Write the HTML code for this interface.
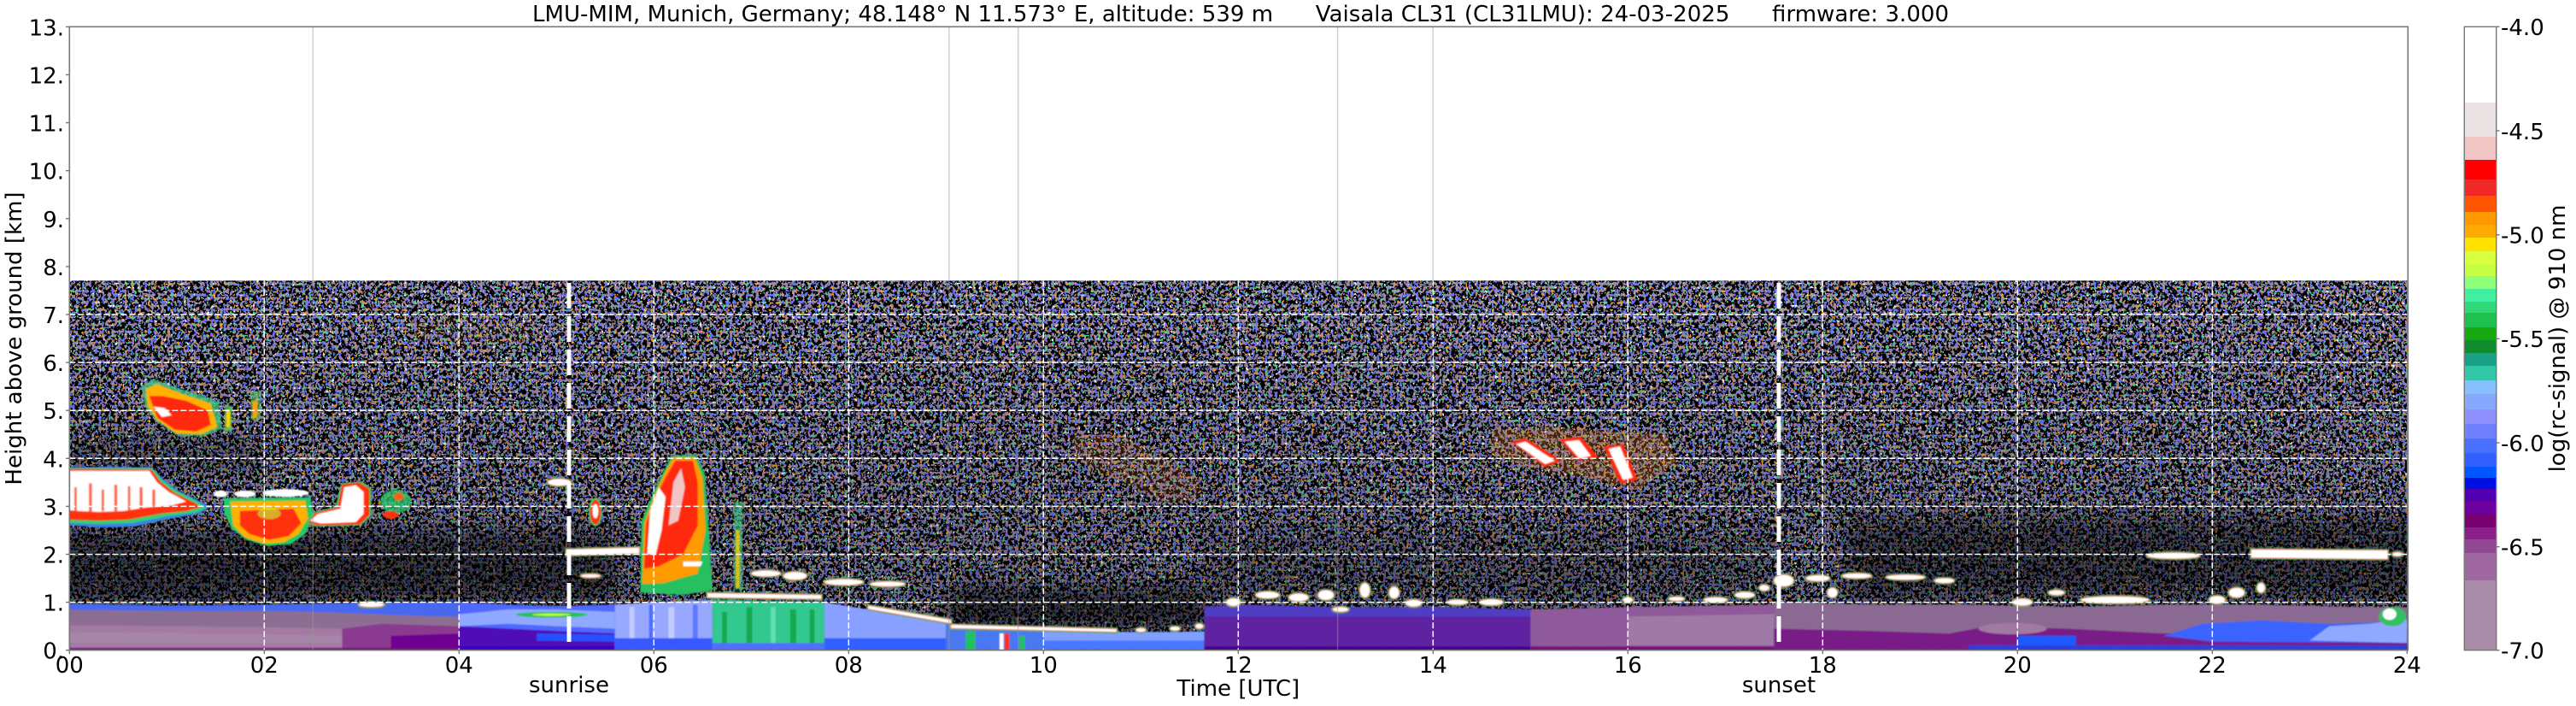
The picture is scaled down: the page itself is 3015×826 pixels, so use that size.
<!DOCTYPE html>
<html><head><meta charset="utf-8"><style>
html,body{margin:0;padding:0;background:#fff;}
svg{display:block;}
text{font-family:"DejaVu Sans","Liberation Sans",sans-serif;font-size:26px;fill:#000;}
#blobs *{vector-effect:non-scaling-stroke;}
</style></head><body>
<svg xmlns="http://www.w3.org/2000/svg" xmlns:xlink="http://www.w3.org/1999/xlink" width="3015" height="826" viewBox="0 0 3015 826">
<defs>
<filter id="nz" filterUnits="userSpaceOnUse" x="81" y="328" width="2737" height="433" color-interpolation-filters="sRGB">
<feTurbulence type="fractalNoise" baseFrequency="0.26 0.23" numOctaves="2" seed="7" result="t1"/>
<feTurbulence type="fractalNoise" baseFrequency="0.26 0.23" numOctaves="2" seed="23" result="t2"/>
<feColorMatrix in="t1" type="matrix" values="0 0 0 0 0.64 0 0 0 0 0.53 0 0 0 0 0.66 50 0 0 0 -26.5" result="a"/>
<feColorMatrix in="t1" type="matrix" values="0 0 0 0 0.40 0 0 0 0 0.46 0 0 0 0 1 0 50 0 0 -30" result="b"/>
<feColorMatrix in="t1" type="matrix" values="0 0 0 0 0.3 0 0 0 0 0.85 0 0 0 0 0.55 0 0 50 0 -33.25" result="c"/>
<feColorMatrix in="t2" type="matrix" values="0 0 0 0 1 0 0 0 0 0.62 0 0 0 0 0.12 50 0 0 0 -34.75" result="d"/>
<feColorMatrix in="t2" type="matrix" values="0 0 0 0 1 0 0 0 0 1 0 0 0 0 1 0 50 0 0 -36.5" result="e"/>
<feMerge><feMergeNode in="a"/><feMergeNode in="b"/><feMergeNode in="c"/><feMergeNode in="d"/><feMergeNode in="e"/></feMerge>
</filter>
<filter id="s12" filterUnits="userSpaceOnUse" x="0" y="300" width="3015" height="500"><feGaussianBlur stdDeviation="14"/></filter>
<filter id="s1" filterUnits="userSpaceOnUse" x="0" y="300" width="3015" height="500"><feGaussianBlur stdDeviation="0.9"/></filter>
<clipPath id="dc"><rect x="81.3" y="328.2" width="2736" height="432.5"/></clipPath>
<linearGradient id="vg" x1="0" y1="0" x2="0" y2="1">
<stop offset="0" stop-color="#000" stop-opacity="0"/>
<stop offset="0.85" stop-color="#000" stop-opacity="0.25"/>
<stop offset="1" stop-color="#000" stop-opacity="0.25"/>
</linearGradient>
<g id="blobs">
<ellipse cx="3.1" cy="0.95" rx="0.13" ry="0.05"/>
<ellipse cx="5.03" cy="3.5" rx="0.12" ry="0.07"/>
<path d="M5.1,1.98 L5.85,2.02 L5.85,2.14 L5.1,2.1 Z"/>
<ellipse cx="5.35" cy="1.55" rx="0.1" ry="0.035"/>
<ellipse cx="7.15" cy="1.6" rx="0.15" ry="0.06"/>
<ellipse cx="7.45" cy="1.55" rx="0.12" ry="0.08"/>
<ellipse cx="7.95" cy="1.42" rx="0.2" ry="0.06"/>
<ellipse cx="8.4" cy="1.38" rx="0.18" ry="0.05"/>
<path d="M6.55,1.1 L7.72,1.07 L7.72,1.15 L6.55,1.19 Z"/>
<path d="M8.2,0.86 L9.05,0.56 L9.05,0.63 L8.2,0.93 Z"/>
<path d="M9.05,0.46 L10.75,0.38 L10.75,0.44 L9.05,0.53 Z"/>
<ellipse cx="11.0" cy="0.42" rx="0.05" ry="0.04"/>
<ellipse cx="11.35" cy="0.45" rx="0.05" ry="0.04"/>
<ellipse cx="11.6" cy="0.5" rx="0.04" ry="0.05"/>
<ellipse cx="11.95" cy="1.0" rx="0.07" ry="0.08"/>
<ellipse cx="12.3" cy="1.15" rx="0.12" ry="0.07"/>
<ellipse cx="12.62" cy="1.1" rx="0.1" ry="0.08"/>
<ellipse cx="12.9" cy="1.15" rx="0.08" ry="0.1"/>
<ellipse cx="13.05" cy="0.85" rx="0.08" ry="0.05"/>
<ellipse cx="13.3" cy="1.25" rx="0.05" ry="0.15"/>
<ellipse cx="13.6" cy="1.2" rx="0.05" ry="0.12"/>
<ellipse cx="13.8" cy="0.98" rx="0.08" ry="0.07"/>
<ellipse cx="14.25" cy="1.0" rx="0.1" ry="0.05"/>
<ellipse cx="14.6" cy="1.0" rx="0.12" ry="0.06"/>
<ellipse cx="16.0" cy="1.05" rx="0.05" ry="0.05"/>
<ellipse cx="16.5" cy="1.07" rx="0.08" ry="0.04"/>
<ellipse cx="16.9" cy="1.05" rx="0.12" ry="0.05"/>
<ellipse cx="17.2" cy="1.15" rx="0.1" ry="0.06"/>
<ellipse cx="17.4" cy="1.3" rx="0.05" ry="0.06"/>
<ellipse cx="17.6" cy="1.45" rx="0.1" ry="0.12"/>
<ellipse cx="17.95" cy="1.5" rx="0.12" ry="0.06"/>
<ellipse cx="18.35" cy="1.55" rx="0.15" ry="0.05"/>
<ellipse cx="18.85" cy="1.52" rx="0.2" ry="0.05"/>
<ellipse cx="19.25" cy="1.45" rx="0.1" ry="0.05"/>
<ellipse cx="18.1" cy="1.2" rx="0.05" ry="0.1"/>
<ellipse cx="20.05" cy="1.0" rx="0.1" ry="0.07"/>
<ellipse cx="20.4" cy="1.2" rx="0.08" ry="0.05"/>
<ellipse cx="21.0" cy="1.05" rx="0.35" ry="0.07"/>
<ellipse cx="21.6" cy="1.97" rx="0.27" ry="0.06"/>
<path d="M22.4,1.93 L23.8,1.9 L23.8,2.08 L22.4,2.1 Z"/>
<ellipse cx="22.05" cy="1.05" rx="0.08" ry="0.08"/>
<ellipse cx="22.25" cy="1.2" rx="0.08" ry="0.1"/>
<ellipse cx="22.5" cy="1.3" rx="0.04" ry="0.1"/>
<ellipse cx="23.9" cy="2.0" rx="0.05" ry="0.04"/>
</g>
</defs>

<rect width="3015" height="826" fill="#fff"/>

<g clip-path="url(#dc)">
<rect x="81.3" y="328.2" width="2736" height="432.5" fill="#000"/>
<rect x="81.3" y="328.2" width="2736" height="432.5" fill="#000" filter="url(#nz)"/>
<rect x="81.3" y="328.2" width="2736" height="432.5" fill="url(#vg)"/>
<g filter="url(#s12)" fill="#000">
<rect x="40" y="620" width="680" height="85" opacity="0.5"/>
<rect x="2160" y="605" width="700" height="95" opacity="0.45"/>
<rect x="1107" y="690" width="310" height="45" opacity="0.6"/>
<rect x="1415" y="620" width="660" height="85" opacity="0.2"/>
<rect x="40" y="510" width="270" height="40" opacity="0.3"/>
</g>

<g filter="url(#s1)">
<g transform="matrix(114 0 0 -56.1 81.3 760.7)">
<path fill="#4a68f0" d="M0,0 L0,0.97 L0.5,0.95 L1,0.93 L1.5,0.94 L2,0.95 L2.5,0.97 L2.8,0.98 L2.8,0 Z"/>
<path fill="#8c6e92" d="M0,0 L0,0.84 L1,0.82 L2,0.82 L2.5,0.8 L2.8,0.78 L2.8,0 Z"/>
<path fill="#a27aa4" d="M0,0 L0,0.52 L1,0.5 L2,0.48 L2.8,0.45 L2.8,0 Z"/>
<path fill="#a98aaa" d="M0,0.15 L0,0.38 L1,0.36 L2,0.33 L2.8,0.3 L2.8,0.15 Z" opacity="0.7"/>
<path fill="#4a68f0" d="M2.8,0 L2.8,0.98 L3.5,1.0 L4,1.0 L4,0 Z"/>
<path fill="#8c6e92" d="M2.8,0 L2.8,0.78 L3.5,0.72 L4,0.7 L4,0 Z"/>
<path fill="#8a3a90" d="M2.8,0 L2.8,0.45 L3.2,0.55 L4,0.5 L4,0 Z"/>
<path fill="#700090" d="M3.3,0 L3.3,0.3 L4,0.35 L4,0 Z"/>
<path fill="#5068ff" d="M4,0 L4,1.0 L4.5,0.95 L5,0.92 L5.6,0.95 L5.6,0 Z"/>
<path fill="#90a8ff" d="M4,0.5 L4,0.75 L4.5,0.85 L5,0.85 L5.6,0.8 L5.6,0.45 L5,0.5 L4.5,0.55 Z"/>
<path fill="#5010b8" d="M4,0 L4,0.5 L4.5,0.45 L5,0.4 L5.6,0.35 L5.6,0 Z"/>
<path fill="#2850ff" d="M4.8,0.2 L4.8,0.35 L5.6,0.32 L5.6,0.18 Z"/>
<rect x="4" y="0" width="1.6" height="0.08" fill="#3a00c0"/>
<ellipse cx="4.95" cy="0.74" rx="0.37" ry="0.06" fill="#20c060"/>
<ellipse cx="4.95" cy="0.74" rx="0.2" ry="0.025" fill="#c0ff40"/>
<path fill="#98a8ff" d="M5.6,0 L5.6,0.95 L6,1.0 L6.6,1.05 L6.6,0 Z"/>
<rect x="5.75" y="0" width="0.05" height="0.9" fill="#c4ccff"/>
<rect x="5.95" y="0" width="0.04" height="0.95" fill="#5070ff"/>
<rect x="6.15" y="0" width="0.06" height="0.9" fill="#c4ccff"/>
<rect x="6.4" y="0" width="0.05" height="0.95" fill="#5a78ff"/>
<rect x="5.6" y="0" width="1.0" height="0.25" fill="#3858ff"/>
<path fill="#30c890" d="M6.6,0 L6.6,1.05 L7.75,1.0 L7.75,0 Z"/>
<rect x="6.7" y="0.1" width="0.05" height="0.7" fill="#18a850"/>
<rect x="6.95" y="0.15" width="0.06" height="0.75" fill="#18a850"/>
<rect x="7.2" y="0.1" width="0.05" height="0.8" fill="#60e0b0"/>
<rect x="7.4" y="0.15" width="0.06" height="0.7" fill="#18a850"/>
<rect x="7.6" y="0.1" width="0.05" height="0.75" fill="#18a850"/>
<rect x="6.6" y="0" width="1.15" height="0.15" fill="#5070ff"/>
<path fill="#88a0ff" d="M7.75,0 L7.75,1.0 L8.2,0.85 L8.6,0.75 L9,0.55 L9,0 Z"/>
<rect x="7.75" y="0" width="1.25" height="0.25" fill="#3060ff"/>
<path fill="#4a78f0" d="M9,0 L9,0.55 L9.5,0.48 L10,0.4 L10,0 Z"/>
<rect x="9.2" y="0" width="0.1" height="0.4" fill="#20c060"/>
<rect x="9.6" y="0" width="0.05" height="0.35" fill="#ff3020"/>
<rect x="9.55" y="0" width="0.04" height="0.35" fill="#ffffff"/>
<rect x="9.75" y="0" width="0.06" height="0.3" fill="#20c060"/>
<path fill="#4878ff" d="M10,0 L10,0.4 L10.5,0.35 L11,0.35 L11.65,0.4 L11.65,0 Z"/>
<path fill="#80a0ff" d="M10,0.2 L10,0.38 L11.65,0.38 L11.65,0.2 Z"/>
<path fill="#5e22a0" d="M11.65,0 L11.65,0.9 L12,0.95 L13,0.9 L14,0.9 L15,0.85 L15,0 Z"/>
<path fill="#4a48d0" d="M11.65,0.7 L11.65,0.9 L12,0.95 L13,0.9 L14,0.9 L15,0.85 L15,0.7 Z" opacity="0.7"/>
<rect x="11.65" y="0" width="3.35" height="0.08" fill="#4a0090"/>
<path fill="#8f5a9a" d="M15,0 L15,0.85 L16,0.9 L17.5,0.95 L17.5,0 Z"/>
<path fill="#a07aa6" d="M16,0.1 L16,0.7 L17.5,0.75 L17.5,0.1 Z"/>
<rect x="15" y="0" width="2.5" height="0.08" fill="#7a0a80"/>
<path fill="#8a6a92" d="M17.5,0 L17.5,1.0 L18.5,0.95 L19.5,0.95 L20.5,0.9 L21.5,0.95 L22.5,0.95 L23.5,0.9 L24,0.9 L24,0 Z"/>
<path fill="#7a1a88" d="M17.5,0 L17.5,0.45 L18.5,0.4 L19.3,0.35 L19.7,0.5 L20.5,0.45 L21.5,0.35 L22.5,0.4 L23.5,0.4 L24,0.35 L24,0 Z"/>
<ellipse cx="19.95" cy="0.45" rx="0.35" ry="0.12" fill="#a07aa0"/>
<path fill="#3a64ff" d="M21.5,0.3 L21.9,0.55 L22.5,0.62 L23.2,0.55 L24,0.6 L24,0.15 L22,0.18 Z"/>
<path fill="#90a8ff" d="M23,0.2 L23.2,0.5 L23.6,0.55 L24,0.65 L24,0.15 Z"/>
<rect x="20" y="0" width="0.6" height="0.3" fill="#1a5aff"/>
<rect x="19.5" y="0" width="4.5" height="0.1" fill="#2a40e0"/>
<ellipse cx="23.85" cy="0.7" rx="0.14" ry="0.2" fill="#30c060"/>
<ellipse cx="23.82" cy="0.75" rx="0.07" ry="0.12" fill="#ffffff"/>
<rect x="0" y="0" width="4" height="0.05" fill="#7a0a80"/>

<path fill="#ff8a20" opacity="0.16" d="M10.3,4.5 L10.8,4.5 L11.6,3.6 L11.6,3.1 L11.2,3.1 L10.3,4.0 Z"/>
<path fill="#ffb040" opacity="0.08" d="M3.5,6.9 L4.2,7.0 L4.8,6.8 L4.8,6.4 L4.0,6.3 L3.5,6.5 Z"/>
<path fill="#ff8a20" opacity="0.25" d="M14.6,4.6 L15.2,4.65 L16.4,4.5 L16.5,3.9 L16.1,3.35 L15.6,3.6 L15.0,3.8 L14.6,4.1 Z"/>
<path fill="#ff2a10" d="M14.8,4.35 L14.95,4.42 L15.32,3.95 L15.15,3.82 Z"/>
<path fill="#ff2a10" d="M15.3,4.4 L15.52,4.45 L15.7,4.02 L15.48,3.95 Z"/>
<path fill="#ff2a10" d="M15.75,4.25 L15.95,4.3 L16.1,3.55 L15.92,3.48 Z"/>
<path fill="#fff" d="M14.85,4.3 L14.95,4.35 L15.25,3.95 L15.15,3.88 Z"/>
<path fill="#fff" d="M15.35,4.35 L15.5,4.38 L15.62,4.05 L15.5,4.0 Z"/>
<path fill="#fff" d="M15.8,4.2 L15.92,4.25 L16.05,3.6 L15.95,3.55 Z"/>

<path fill="#3a80e8" d="M0,2.6 L0,3.81 L0.4,3.83 L0.85,3.81 L0.96,3.57 L1.11,3.34 L1.31,3.14 L1.44,2.98 L1.33,2.84 L1.03,2.74 L0.68,2.58 L0.33,2.56 Z"/>
<path fill="#30d070" d="M0,2.65 L0,3.8 L0.85,3.8 L0.95,3.55 L1.1,3.32 L1.3,3.12 L1.41,2.97 L1.3,2.87 L1.0,2.79 L0.64,2.65 L0.3,2.63 Z"/>
<path fill="#ff3010" d="M0,2.72 L0,3.78 L0.84,3.77 L0.93,3.52 L1.08,3.28 L1.28,3.08 L1.35,2.98 L1.2,2.9 L0.95,2.85 L0.6,2.72 L0.3,2.7 Z"/>
<path fill="#ffffff" d="M0,2.92 L0,3.74 L0.82,3.74 L0.9,3.5 L1.02,3.3 L1.2,3.1 L1.05,3.02 L0.8,2.98 L0.55,2.9 L0.3,2.88 L0.1,2.9 Z"/>
<g fill="#ff4020" opacity="0.8">
<rect x="0.05" y="2.9" width="0.025" height="0.5"/>
<rect x="0.2" y="2.88" width="0.03" height="0.6"/>
<rect x="0.33" y="2.9" width="0.025" height="0.45"/>
<rect x="0.46" y="2.9" width="0.03" height="0.55"/>
<rect x="0.6" y="2.92" width="0.025" height="0.5"/>
<rect x="0.72" y="2.95" width="0.03" height="0.45"/>
<rect x="0.85" y="3.0" width="0.03" height="0.35"/>
</g>
<path fill="#28c868" d="M1.58,3.17 L2.47,3.19 L2.51,2.8 L2.42,2.42 L2.28,2.22 L2.04,2.17 L1.83,2.29 L1.67,2.52 L1.59,2.85 Z"/>
<path fill="#ffb000" d="M1.65,3.1 L2.42,3.12 L2.45,2.75 L2.35,2.42 L2.2,2.25 L2.0,2.22 L1.8,2.35 L1.68,2.6 Z"/>
<path fill="#ff3010" d="M1.75,2.9 L2.3,2.95 L2.38,2.65 L2.25,2.38 L2.05,2.3 L1.85,2.42 L1.75,2.6 Z"/>
<ellipse cx="2.05" cy="2.85" rx="0.12" ry="0.12" fill="#c0ff40" opacity="0.6"/>
<ellipse cx="1.55" cy="3.26" rx="0.07" ry="0.07" fill="#fff"/>
<ellipse cx="1.8" cy="3.26" rx="0.11" ry="0.07" fill="#fff"/>
<ellipse cx="2.22" cy="3.28" rx="0.24" ry="0.08" fill="#fff"/>
<path fill="#28c868" d="M2.44,2.64 L2.55,2.58 L2.99,2.6 L3.1,2.81 L3.1,3.38 L2.98,3.52 L2.79,3.48 L2.73,2.99 L2.51,2.88 Z"/>
<path fill="#ff3010" d="M2.45,2.66 L2.56,2.6 L2.98,2.62 L3.08,2.82 L3.08,3.36 L2.97,3.5 L2.8,3.46 L2.75,2.98 L2.52,2.86 Z"/>
<path fill="#fff" d="M2.47,2.7 L2.58,2.64 L2.94,2.67 L3.02,2.84 L3.02,3.3 L2.94,3.44 L2.82,3.4 L2.78,2.95 L2.55,2.84 Z"/>
<ellipse cx="3.35" cy="3.1" rx="0.16" ry="0.25" fill="#28c868" opacity="0.75"/>
<ellipse cx="3.3" cy="2.82" rx="0.08" ry="0.08" fill="#ff3010"/>
<ellipse cx="3.38" cy="3.2" rx="0.05" ry="0.08" fill="#ff6010"/>
<path fill="#40c880" opacity="0.8" d="M0.74,5.5 L0.86,5.66 L1.1,5.47 L1.35,5.32 L1.53,5.18 L1.57,4.62 L1.38,4.46 L1.1,4.48 L0.89,4.78 L0.77,5.1 Z"/>
<path fill="#ffb000" d="M0.78,5.45 L0.9,5.55 L1.15,5.35 L1.45,5.15 L1.52,4.65 L1.35,4.5 L1.1,4.52 L0.9,4.8 L0.8,5.1 Z"/>
<path fill="#ff2a10" d="M0.82,5.3 L0.95,5.3 L1.2,5.2 L1.42,5.0 L1.45,4.7 L1.3,4.56 L1.08,4.6 L0.9,4.85 Z"/>
<path fill="#fff" d="M0.86,5.08 L0.98,5.05 L1.05,4.9 L0.95,4.86 Z"/>
<rect x="1.59" y="4.55" width="0.08" height="0.55" fill="#60d060" opacity="0.7"/>
<rect x="1.61" y="4.65" width="0.04" height="0.35" fill="#ffd000"/>
<rect x="1.86" y="4.8" width="0.1" height="0.6" fill="#60d060" opacity="0.6"/>
<rect x="1.88" y="4.85" width="0.05" height="0.35" fill="#ffa000"/>
<path fill="#28c060" d="M5.86,1.2 L5.87,2.68 L5.98,3.22 L6.08,3.65 L6.18,4.06 L6.43,4.07 L6.52,3.7 L6.56,2.7 L6.6,1.25 L6.3,1.15 Z"/>
<path fill="#ff9a00" d="M5.88,1.38 L5.9,2.65 L6.0,3.2 L6.1,3.65 L6.2,4.02 L6.42,4.02 L6.5,3.6 L6.53,2.5 L6.45,1.6 L6.1,1.4 Z"/>
<path fill="#ff2a10" d="M5.9,1.7 L5.92,2.65 L6.02,3.2 L6.12,3.6 L6.22,3.95 L6.4,3.95 L6.45,3.5 L6.45,2.6 L6.3,2.0 L6.05,1.75 Z"/>
<path fill="#fff" d="M5.93,2.0 L5.96,2.9 L6.05,3.4 L6.12,3.2 L6.08,2.5 L6.02,2.0 Z"/>
<path fill="#f2c5c5" d="M6.15,2.6 L6.2,3.5 L6.28,3.8 L6.32,3.4 L6.25,2.7 Z"/>
<path fill="#fff" d="M6.3,1.75 L6.48,1.75 L6.5,1.85 L6.3,1.85 Z"/>
<rect x="6.82" y="1.26" width="0.09" height="1.84" fill="#40d080" opacity="0.6"/>
<rect x="6.84" y="1.3" width="0.04" height="1.2" fill="#ffd000" opacity="0.8"/>
<ellipse cx="5.4" cy="2.88" rx="0.07" ry="0.3" fill="#28c868"/>
<ellipse cx="5.4" cy="2.88" rx="0.055" ry="0.26" fill="#ff3010"/>
<ellipse cx="5.4" cy="2.9" rx="0.03" ry="0.15" fill="#fff"/>
<use xlink:href="#blobs" fill="#ffffff" stroke="#30c060" stroke-width="3.5"/>
<use xlink:href="#blobs" fill="#ffffff" stroke="#ff3020" stroke-width="1.5"/>
<use xlink:href="#blobs" fill="#ffffff" stroke="none"/>
</g>
</g>

<g stroke="#fff" stroke-width="1.5" stroke-dasharray="7 3" fill="none">
<line x1="81.3" y1="704.6" x2="2817.3" y2="704.6"/>
<line x1="81.3" y1="648.5" x2="2817.3" y2="648.5"/>
<line x1="81.3" y1="592.4" x2="2817.3" y2="592.4"/>
<line x1="81.3" y1="536.3" x2="2817.3" y2="536.3"/>
<line x1="81.3" y1="480.2" x2="2817.3" y2="480.2"/>
<line x1="81.3" y1="424.1" x2="2817.3" y2="424.1"/>
<line x1="81.3" y1="368.0" x2="2817.3" y2="368.0"/>
<line x1="309.3" y1="328.2" x2="309.3" y2="760.7"/>
<line x1="537.3" y1="328.2" x2="537.3" y2="760.7"/>
<line x1="765.3" y1="328.2" x2="765.3" y2="760.7"/>
<line x1="993.3" y1="328.2" x2="993.3" y2="760.7"/>
<line x1="1221.3" y1="328.2" x2="1221.3" y2="760.7"/>
<line x1="1449.3" y1="328.2" x2="1449.3" y2="760.7"/>
<line x1="1677.3" y1="328.2" x2="1677.3" y2="760.7"/>
<line x1="1905.3" y1="328.2" x2="1905.3" y2="760.7"/>
<line x1="2133.3" y1="328.2" x2="2133.3" y2="760.7"/>
<line x1="2361.3" y1="328.2" x2="2361.3" y2="760.7"/>
<line x1="2589.3" y1="328.2" x2="2589.3" y2="760.7"/>
</g>
<g stroke="#fff" stroke-width="5" stroke-dasharray="30 9">
<line x1="666" y1="331" x2="666" y2="761"/>
<line x1="2082" y1="331" x2="2082" y2="761"/>
</g>
</g>

<g stroke="#9a9a9a" stroke-opacity="0.45" stroke-width="1.5">
<line x1="366.3" y1="31.3" x2="366.3" y2="760.7"/>
<line x1="1110.7" y1="31.3" x2="1110.7" y2="760.7"/>
<line x1="1191.7" y1="31.3" x2="1191.7" y2="760.7"/>
<line x1="1565.6" y1="31.3" x2="1565.6" y2="760.7"/>
<line x1="1677.3" y1="31.3" x2="1677.3" y2="328.2"/>
</g>

<rect x="81.3" y="31.3" width="2737" height="729.4" fill="none" stroke="#777" stroke-width="1.6"/>
<g stroke="#777" stroke-width="1.4">
<line x1="77" y1="760.7" x2="81.3" y2="760.7"/><line x1="77" y1="704.6" x2="81.3" y2="704.6"/>
<line x1="77" y1="648.5" x2="81.3" y2="648.5"/><line x1="77" y1="592.4" x2="81.3" y2="592.4"/>
<line x1="77" y1="536.3" x2="81.3" y2="536.3"/><line x1="77" y1="480.2" x2="81.3" y2="480.2"/>
<line x1="77" y1="424.1" x2="81.3" y2="424.1"/><line x1="77" y1="368.0" x2="81.3" y2="368.0"/>
<line x1="77" y1="311.9" x2="81.3" y2="311.9"/><line x1="77" y1="255.8" x2="81.3" y2="255.8"/>
<line x1="77" y1="199.7" x2="81.3" y2="199.7"/><line x1="77" y1="143.6" x2="81.3" y2="143.6"/>
<line x1="77" y1="87.5" x2="81.3" y2="87.5"/><line x1="77" y1="31.4" x2="81.3" y2="31.4"/>
<line x1="81.3" y1="760.7" x2="81.3" y2="765"/><line x1="309.3" y1="760.7" x2="309.3" y2="765"/>
<line x1="537.3" y1="760.7" x2="537.3" y2="765"/><line x1="765.3" y1="760.7" x2="765.3" y2="765"/>
<line x1="993.3" y1="760.7" x2="993.3" y2="765"/><line x1="1221.3" y1="760.7" x2="1221.3" y2="765"/>
<line x1="1449.3" y1="760.7" x2="1449.3" y2="765"/><line x1="1677.3" y1="760.7" x2="1677.3" y2="765"/>
<line x1="1905.3" y1="760.7" x2="1905.3" y2="765"/><line x1="2133.3" y1="760.7" x2="2133.3" y2="765"/>
<line x1="2361.3" y1="760.7" x2="2361.3" y2="765"/><line x1="2589.3" y1="760.7" x2="2589.3" y2="765"/>
<line x1="2817.3" y1="760.7" x2="2817.3" y2="765"/>
</g>

<g text-anchor="end">
<text x="75" y="770.7">0.</text><text x="75" y="714.6">1.</text><text x="75" y="658.5">2.</text>
<text x="75" y="602.4">3.</text><text x="75" y="546.3">4.</text><text x="75" y="490.2">5.</text>
<text x="75" y="434.1">6.</text><text x="75" y="378.0">7.</text><text x="75" y="321.9">8.</text>
<text x="75" y="265.8">9.</text><text x="75" y="209.7">10.</text><text x="75" y="153.6">11.</text>
<text x="75" y="97.5">12.</text><text x="75" y="41.4">13.</text>
</g>
<g text-anchor="middle">
<text x="81.3" y="787">00</text><text x="309.3" y="787">02</text><text x="537.3" y="787">04</text>
<text x="765.3" y="787">06</text><text x="993.3" y="787">08</text><text x="1221.3" y="787">10</text>
<text x="1449.3" y="787">12</text><text x="1677.3" y="787">14</text><text x="1905.3" y="787">16</text>
<text x="2133.3" y="787">18</text><text x="2361.3" y="787">20</text><text x="2589.3" y="787">22</text>
<text x="2817.3" y="787">24</text>
<text x="1449.3" y="814">Time [UTC]</text>
<text x="666" y="810">sunrise</text>
<text x="2082" y="810">sunset</text>
</g>
<text transform="translate(25,396) rotate(-90)" text-anchor="middle">Height above ground [km]</text>
<text x="623" y="25" xml:space="preserve" style="white-space:pre" textLength="1658" lengthAdjust="spacing">LMU-MIM, Munich, Germany; 48.148° N 11.573° E, altitude: 539 m      Vaisala CL31 (CL31LMU): 24-03-2025      firmware: 3.000</text>

<g>
<rect x="2884.3" y="31.3" width="37.4" height="89" fill="#ffffff"/>
<rect x="2884.3" y="120" width="37.4" height="40" fill="#ece3e4"/>
<rect x="2884.3" y="160" width="37.4" height="27" fill="#f2c5c5"/>
<rect x="2884.3" y="187" width="37.4" height="23" fill="#ff0000"/>
<rect x="2884.3" y="210" width="37.4" height="19" fill="#f02828"/>
<rect x="2884.3" y="229" width="37.4" height="19" fill="#ff5500"/>
<rect x="2884.3" y="248" width="37.4" height="15" fill="#ff9900"/>
<rect x="2884.3" y="263" width="37.4" height="15" fill="#ffaa00"/>
<rect x="2884.3" y="278" width="37.4" height="16" fill="#ffe000"/>
<rect x="2884.3" y="294" width="37.4" height="15" fill="#d8ff40"/>
<rect x="2884.3" y="309" width="37.4" height="14" fill="#c4ff44"/>
<rect x="2884.3" y="323" width="37.4" height="15" fill="#8eff78"/>
<rect x="2884.3" y="338" width="37.4" height="15" fill="#40f0a0"/>
<rect x="2884.3" y="353" width="37.4" height="13" fill="#30d878"/>
<rect x="2884.3" y="366" width="37.4" height="17" fill="#20c050"/>
<rect x="2884.3" y="383" width="37.4" height="15" fill="#18a810"/>
<rect x="2884.3" y="398" width="37.4" height="15" fill="#108c2c"/>
<rect x="2884.3" y="413" width="37.4" height="15" fill="#1aa088"/>
<rect x="2884.3" y="428" width="37.4" height="17" fill="#30c8a8"/>
<rect x="2884.3" y="445" width="37.4" height="16" fill="#88c0ff"/>
<rect x="2884.3" y="461" width="37.4" height="18" fill="#88a8ff"/>
<rect x="2884.3" y="479" width="37.4" height="17" fill="#9090ff"/>
<rect x="2884.3" y="496" width="37.4" height="17" fill="#7080ff"/>
<rect x="2884.3" y="513" width="37.4" height="17" fill="#4a70ff"/>
<rect x="2884.3" y="530" width="37.4" height="16" fill="#3060ff"/>
<rect x="2884.3" y="546" width="37.4" height="13" fill="#0055ff"/>
<rect x="2884.3" y="559" width="37.4" height="13" fill="#0010e0"/>
<rect x="2884.3" y="572" width="37.4" height="14" fill="#5000b0"/>
<rect x="2884.3" y="586" width="37.4" height="15" fill="#6c00a0"/>
<rect x="2884.3" y="601" width="37.4" height="16" fill="#780070"/>
<rect x="2884.3" y="617" width="37.4" height="14" fill="#882088"/>
<rect x="2884.3" y="631" width="37.4" height="16" fill="#904890"/>
<rect x="2884.3" y="647" width="37.4" height="32" fill="#a068a0"/>
<rect x="2884.3" y="679" width="37.4" height="81.7" fill="#a88ca8"/>
<rect x="2884.3" y="31.3" width="37.4" height="729.4" fill="none" stroke="#777" stroke-width="1.4"/>
</g>
<g stroke="#777" stroke-width="1.4">
<line x1="2921.7" y1="31.3" x2="2925.5" y2="31.3"/>
<line x1="2921.7" y1="153" x2="2925.5" y2="153"/>
<line x1="2921.7" y1="274.7" x2="2925.5" y2="274.7"/>
<line x1="2921.7" y1="396.3" x2="2925.5" y2="396.3"/>
<line x1="2921.7" y1="518" x2="2925.5" y2="518"/>
<line x1="2921.7" y1="639.7" x2="2925.5" y2="639.7"/>
<line x1="2921.7" y1="760.7" x2="2925.5" y2="760.7"/>
</g>
<g>
<text x="2927" y="41">-4.0</text>
<text x="2927" y="162.8">-4.5</text>
<text x="2927" y="284.5">-5.0</text>
<text x="2927" y="406.1">-5.5</text>
<text x="2927" y="527.8">-6.0</text>
<text x="2927" y="649.5">-6.5</text>
<text x="2927" y="770.5">-7.0</text>
</g>
<text transform="translate(3002,396) rotate(-90)" text-anchor="middle">log(rc-signal) @ 910 nm</text>
</svg>
</body></html>
